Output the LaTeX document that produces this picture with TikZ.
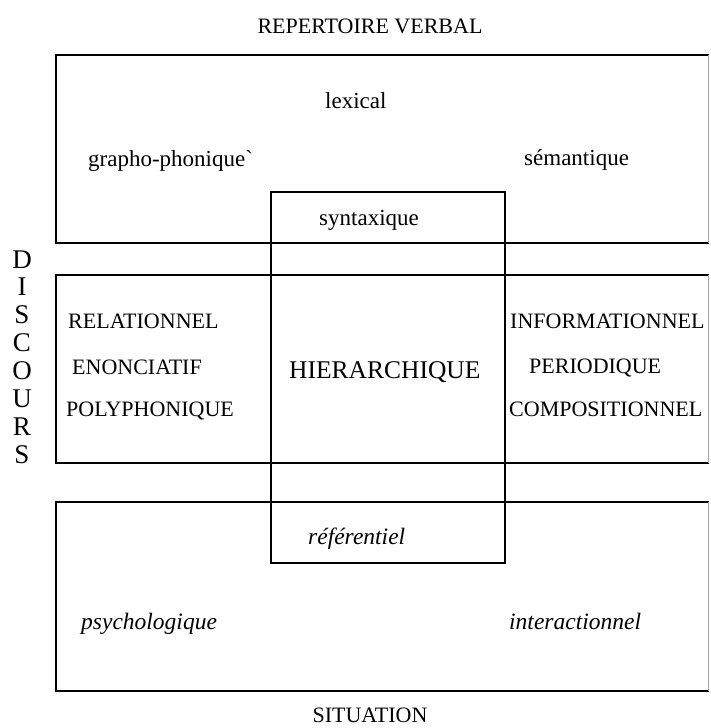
\documentclass[tikz,border=0pt]{standalone}
\usepackage{fontspec}
\setmainfont{Liberation Serif}
\usetikzlibrary{calc}

\tikzset{
  cadre/.style={line width=2.6pt,line cap=rect},
  bord/.style={line width=1pt,black!35},
  lbl/.style={inner sep=0pt,anchor=base west,font=\fontsize{23}{27}\selectfont},
  caps/.style={inner sep=0pt,anchor=base west,font=\fontsize{22}{26}\selectfont},
  titre/.style={inner sep=0pt,anchor=base,font=\fontsize{22}{26}\selectfont},
  lettre/.style={inner sep=0pt,anchor=base,font=\fontsize{27}{30}\selectfont}
}

\begin{document}
\begin{tikzpicture}[x=1pt,y=-1pt]
                \useasboundingbox (0,0) rectangle (710,728);

                \coordinate (RA) at (56,55);
                \coordinate (RB) at (708,243);
                \coordinate (DA) at (56,275);
                \coordinate (DB) at (708,463);
                \coordinate (SA) at (56,502);
                \coordinate (SB) at (708,691);
                \coordinate (CA) at (271,192);
                \coordinate (CB) at (505,563);

                % trois bandes, ouvertes a droite
                \draw[cadre] (RB-|RA) ++(652,0) -- (RB-|RA) -- (RA) -- (RA-|RB);
                \draw[cadre] (DB-|DA) ++(652,0) -- (DB-|DA) -- (DA) -- (DA-|DB);
                \draw[cadre] (SB-|SA) ++(652,0) -- (SB-|SA) -- (SA) -- (SA-|SB);
                \draw[bord] (RA-|RB) -- (RB) (DA-|DB) -- (DB) (SA-|SB) -- (SB);
                % colonne centrale
                \draw[cadre] (CA) rectangle (CB);

                \node[titre] (rv) at (370,33) {REPERTOIRE VERBAL};
                \node[titre] (sit) at (370,722) {SITUATION};

                \node[lbl] (lex) at (325,108) {lexical};
                \node[lbl] (gph) at (88,166) {grapho-phonique\textasciigrave};
                \node[lbl] (sem) at (524,165) {sémantique};
                \node[lbl] (syn) at (319,225) {syntaxique};

                \node[caps] (rel) at (68,328) {RELATIONNEL};
                \node[caps] (eno) at (72,374) {ENONCIATIF};
                \node[caps] (pol) at (66,416) {POLYPHONIQUE};
                \node[caps] (inf) at (510,328) {INFORMATIONNEL};
                \node[caps] (per) at (529,373) {PERIODIQUE};
                \node[caps] (com) at (509,416) {COMPOSITIONNEL};
                \node[inner sep=0pt,anchor=base west,font=\fontsize{25.5}{30}\selectfont] (hie) at (289,378) {HIERARCHIQUE};

                \node[lbl,font=\fontsize{23.5}{27}\selectfont\itshape] (ref) at (308,544) {référentiel};
                \node[lbl,font=\fontsize{23.5}{27}\selectfont\itshape] (psy) at (81,629) {psychologique};
                \node[lbl,font=\fontsize{23.5}{27}\selectfont\itshape] (int) at (509,629) {interactionnel};

                \foreach \l [count=\i from 0] in {D,I,S,C,O,U,R,S}
                  \node[lettre] (disc\i) at (22,268+27.9*\i) {\l};
            \end{tikzpicture}
\end{document}
